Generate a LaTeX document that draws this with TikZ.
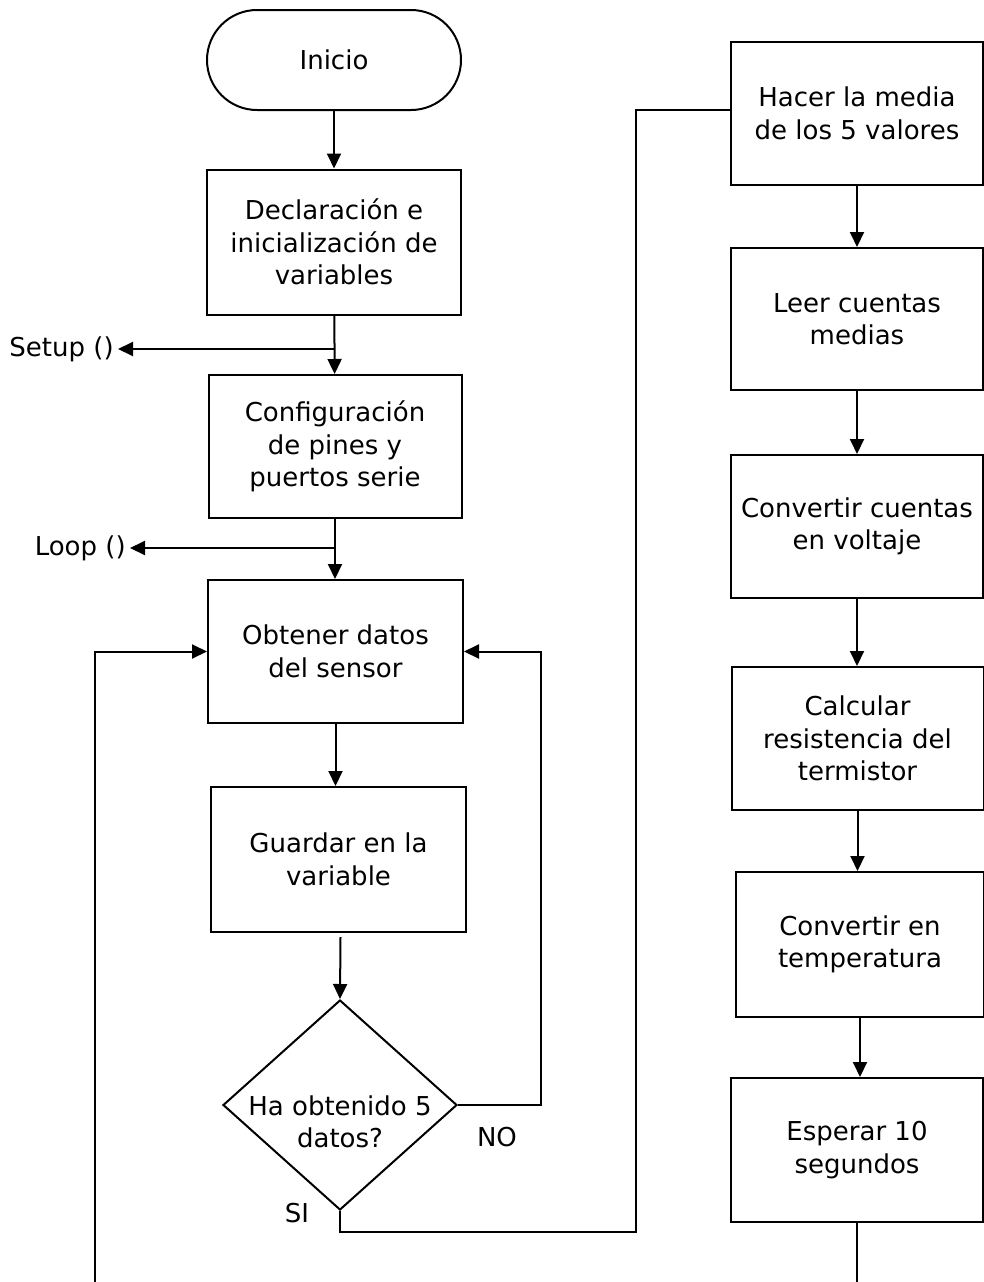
\documentclass[tikz,border=0pt]{standalone}
\usepackage{fontspec}
\setmainfont{DejaVu Sans}
\usetikzlibrary{shapes.geometric,arrows.meta,positioning}

\tikzset{
  caja/.style={draw, rectangle, minimum width=252pt, minimum height=143pt, align=center, inner sep=0pt},
  inicio/.style={draw, rectangle, rounded corners=50pt, minimum width=254pt, minimum height=100pt, inner sep=0pt},
  decision/.style={draw, diamond, minimum width=234pt, minimum height=210pt, inner sep=0pt},
  flecha/.style={-{Triangle[length=15pt,width=14pt]}}
}

\begin{document}
\begin{tikzpicture}[x=1pt,y=-1pt,font=\fontsize{26}{32.5}\selectfont,line width=2pt]
  \useasboundingbox (0,0) rectangle (984,1282);
  % Left column
  \node[inicio] (inicio) at (334,60) {Inicio};
  \node[caja, minimum width=254pt, minimum height=145pt] (declara) at (334,242) {Declaración e\\inicialización de\\variables};
  \node[caja, minimum width=253pt] (config) at (335,446.5) {Configuración\\de pines y\\puertos serie};
  \node[caja, minimum width=255pt] (obtener) at (335.5,651.5) {Obtener datos\\del sensor};
  \node[caja, minimum width=255pt, minimum height=145pt] (guardar) at (338.5,859.5) {Guardar en la\\variable};
  \node[decision] (check) at (340,1105) {};
  \node[align=center] (pregunta) at (340,1122) {Ha obtenido 5\\datos?};
  \node (no) at (497,1137) {NO};
  \node (si) at (297,1213) {SI};
  \node[anchor=east] (setup) at (118,349) {Setup ()};
  \node[anchor=east] (loop) at (130,548) {Loop ()};
  % Right column
  \node[caja] (hacer) at (857,113.5) {Hacer la media\\de los 5 valores};
  \node[caja, minimum height=142pt] (leer) at (857,319) {Leer cuentas\\medias};
  \node[caja] (cuentas) at (857,526.5) {Convertir cuentas\\en voltaje};
  \node[caja] (calcular) at (857.5,738.5) {Calcular\\resistencia del\\termistor};
  \node[caja, minimum width=248pt, minimum height=145pt] (temperatura) at (860,944.5) {Convertir en\\temperatura};
  \node[caja, minimum height=144pt] (esperar) at (857,1150) {Esperar 10\\segundos};
  % Corners of the loops
  \coordinate (noesq) at (541,1105);
  \coordinate (siesq) at (636,1232);
  \coordinate (retorno) at (95,1282);
  \coordinate (fin) at (865,1282);
  % Main flow
  \draw[flecha] (inicio) -- (declara);
  \draw[flecha] (declara) -- (config);
  \draw[flecha] (declara.south |- setup.east) -- (setup.east);
  \draw[flecha] (config.south) -- (config.south |- obtener.north);
  \draw[flecha] (config.south |- loop.east) -- (loop.east);
  \draw[flecha] (obtener.south) -- (obtener.south |- guardar.north);
  \draw[flecha] ([xshift=2pt]guardar.south) ++(0,4) -- (check.north);
  \draw[flecha] (check.east) -- (noesq) |- (obtener.east);
  \draw[flecha] (retorno) |- (obtener.west);
  \draw (check.south) |- (siesq) |- ([yshift=3.5pt]hacer.west);
  \foreach \a/\b in {hacer/leer, leer/cuentas, cuentas/calcular, calcular/temperatura, temperatura/esperar}
    \draw[flecha] (\a.south) -- (\a.south |- \b.north);
  \draw (esperar.south) -- (esperar.south |- fin);
\end{tikzpicture}
\end{document}
